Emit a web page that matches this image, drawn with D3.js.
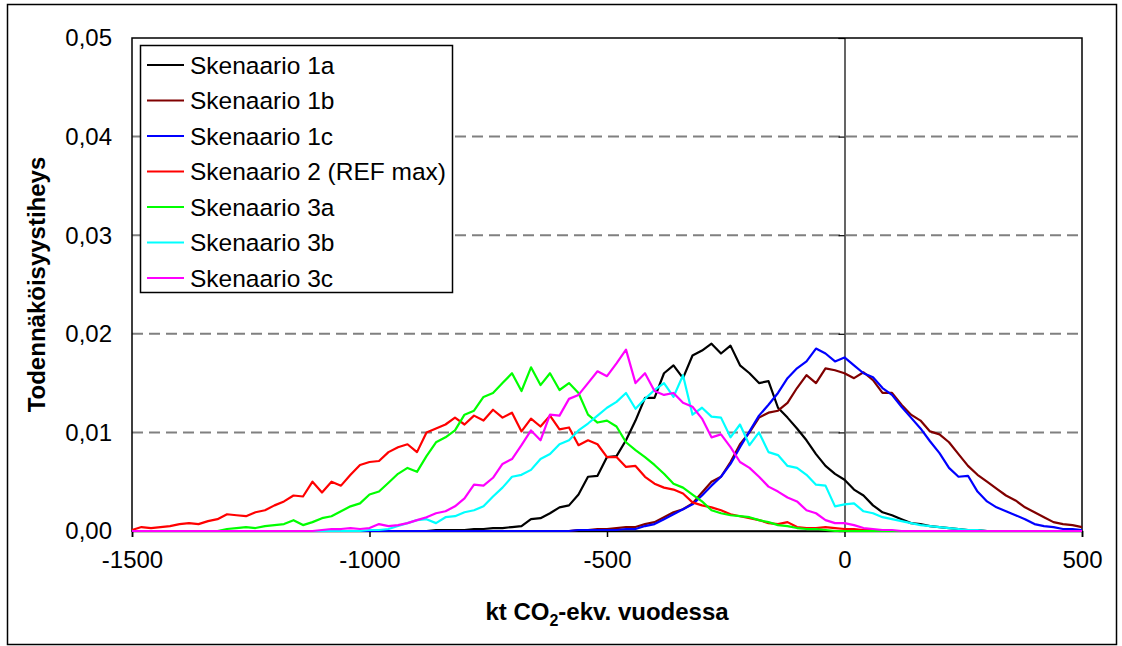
<!DOCTYPE html>
<html>
<head>
<meta charset="utf-8">
<script src="https://cdn.jsdelivr.net/npm/d3@7"></script>
<style>
  html, body { margin: 0; padding: 0; background: #fff; }
  svg { display: block; font-family: Arial, "Liberation Sans", sans-serif; }
</style>
</head>
<body>
<svg id="chart" width="1122" height="646"></svg>
<script>
// x categories (kt CO2-ekv. vuodessa)
const xGrid = [
  -1500,-1480,-1460,-1440,-1420,-1400,-1380,-1360,-1340,-1320,
  -1300,-1280,-1260,-1240,-1220,-1200,-1180,-1160,-1140,-1120,
  -1100,-1080,-1060,-1040,-1020,-1000,-980,-960,-940,-920,
  -900,-880,-860,-840,-820,-800,-780,-760,-740,-720,
  -700,-680,-660,-640,-620,-600,-580,-560,-540,-520,
  -500,-480,-460,-440,-420,-400,-380,-360,-340,-320,
  -300,-280,-260,-240,-220,-200,-180,-160,-140,-120,
  -100,-80,-60,-40,-20,0,20,40,60,80,
  100,120,140,160,180,200,220,240,260,280,
  300,320,340,360,380,400,420,440,460,480,
  500
];

const s1a = [
  0,0,0,0,0,0,0,0,0,0,
  0,0,0,0,0,0,0,0,0,0,
  0,0,0,0,0,0,0,0,0,0,
  0,0,.0001,.0001,.0001,.0001,.0002,.0002,.0003,.0003,
  .0004,.0005,.0012,.0013,.0018,.0024,.0026,.0037,.0055,.0056,
  .0075,.0076,.0092,.0112,.0135,.0135,.0160,.0168,.0155,.0178,
  .0183,.0190,.0180,.0188,.0168,.0160,.0150,.0152,.0125,.0115,
  .0104,.0092,.0078,.0066,.0058,.0052,.0042,.0036,.0026,.0019,
  .0016,.0012,.0008,.0007,.0005,.0004,.0003,.0002,.0001,.0001,
  0,0,0,0,0,0,0,0,0,0,
  0
];
const s1b = [
  0,0,0,0,0,0,0,0,0,0,
  0,0,0,0,0,0,0,0,0,0,
  0,0,0,0,0,0,0,0,0,0,
  0,0,0,0,0,0,0,0,0,0,
  0,0,0,0,0,0,0,.0001,.0001,.0002,
  .0002,.0003,.0004,.0004,.0007,.0009,.0014,.0019,.0022,.0028,
  .0039,.0050,.0055,.0070,.0088,.0100,.0115,.0120,.0122,.0130,
  .0145,.0158,.0150,.0165,.0163,.0160,.0155,.0161,.0153,.0140,
  .0140,.0128,.0118,.0112,.0101,.0098,.0090,.0078,.0066,.0057,
  .0050,.0043,.0036,.0031,.0024,.0019,.0014,.0009,.0007,.0006,
  .0004
];
const s1c = [
  0,0,0,0,0,0,0,0,0,0,
  0,0,0,0,0,0,0,0,0,0,
  0,0,0,0,0,0,0,0,0,0,
  0,0,0,0,0,0,0,0,0,0,
  0,0,0,0,0,0,0,.0001,.0001,.0001,
  .0001,.0001,.0002,.0002,.0005,.0007,.0012,.0017,.0022,.0027,
  .0036,.0046,.0055,.0068,.0085,.0101,.0117,.0128,.0140,.0155,
  .0165,.0172,.0185,.0180,.0172,.0176,.0168,.0160,.0156,.0145,
  .0138,.0126,.0115,.0104,.0091,.0079,.0064,.0055,.0056,.0040,
  .0030,.0024,.0020,.0016,.0012,.0007,.0005,.0004,.0002,.0002,
  .0001
];
const s2 = [
  .0001,.0004,.0003,.0004,.0005,.0007,.0008,.0007,.0010,.0012,
  .0017,.0016,.0015,.0019,.0021,.0026,.0030,.0036,.0035,.0050,
  .0039,.0050,.0046,.0057,.0067,.0070,.0071,.0080,.0085,.0088,
  .0080,.0100,.0104,.0108,.0115,.0108,.0117,.0112,.0123,.0115,
  .0120,.0101,.0114,.0106,.0117,.0103,.0105,.0087,.0092,.0088,
  .0075,.0075,.0065,.0066,.0055,.0048,.0044,.0042,.0038,.0029,
  .0026,.0024,.0021,.0017,.0015,.0013,.0011,.0008,.0007,.0009,
  .0004,.0003,.0003,.0004,.0003,.0002,.0002,.0001,.0001,0,
  0,0,0,0,0,0,0,0,0,0,
  0,0,0,0,0,0,0,0,0,0,
  0
];
const s3a = [
  0,0,0,0,0,0,0,0,0,0,
  .0002,.0003,.0004,.0003,.0005,.0006,.0007,.0011,.0006,.0009,
  .0013,.0015,.0020,.0025,.0028,.0037,.0040,.0049,.0058,.0064,
  .0060,.0076,.0090,.0095,.0102,.0118,.0122,.0136,.0140,.0150,
  .0160,.0142,.0166,.0148,.0160,.0143,.0150,.0140,.0118,.0110,
  .0112,.0106,.0090,.0082,.0075,.0067,.0058,.0048,.0044,.0037,
  .0030,.0021,.0018,.0016,.0015,.0014,.0011,.0009,.0006,.0005,
  .0003,.0002,.0002,.0001,0,0,0,0,0,0,
  0,0,0,0,0,0,0,0,0,0,
  0,0,0,0,0,0,0,0,0,0,
  0
];
const s3b = [
  0,0,0,0,0,0,0,0,0,0,
  0,0,0,0,0,0,0,0,0,0,
  0,0,0,0,0,.0001,.0001,.0002,.0005,.0008,
  .0011,.0012,.0008,.0014,.0015,.0019,.0021,.0025,.0035,.0044,
  .0055,.0057,.0062,.0073,.0078,.0088,.0092,.0102,.0109,.0117,
  .0125,.0131,.0140,.0124,.0134,.0143,.0150,.0136,.0158,.0118,
  .0125,.0116,.0115,.0095,.0108,.0087,.0100,.0080,.0077,.0066,
  .0064,.0057,.0047,.0046,.0025,.0027,.0028,.0020,.0018,.0014,
  .0012,.0010,.0008,.0006,.0005,.0004,.0003,.0002,.0001,.0001,
  0,0,0,0,0,0,0,0,0,0,
  0
];
const s3c = [
  0,0,0,0,0,0,0,0,0,0,
  0,0,0,0,0,0,0,0,0,0,
  .0001,.0002,.0002,.0003,.0002,.0003,.0007,.0005,.0006,.0008,
  .0011,.0014,.0018,.0020,.0025,.0033,.0047,.0046,.0054,.0068,
  .0073,.0087,.0102,.0092,.0118,.0117,.0134,.0138,.0150,.0162,
  .0157,.0170,.0184,.0150,.0160,.0142,.0138,.0140,.0130,.0126,
  .0114,.0095,.0098,.0085,.0070,.0064,.0055,.0045,.0040,.0034,
  .0030,.0021,.0018,.0011,.0008,.0008,.0006,.0003,.0002,.0001,
  .0001,0,0,0,0,0,0,0,0,0,
  0,0,0,0,0,0,0,0,0,0,
  0
];

const seriesNames = ["Skenaario 1a","Skenaario 1b","Skenaario 1c","Skenaario 2 (REF max)","Skenaario 3a","Skenaario 3b","Skenaario 3c"];
const seriesValues = [s1a, s1b, s1c, s2, s3a, s3b, s3c];
const seriesColors = ["#000000","#800000","#0000FF","#FF0000","#00FF00","#00FFFF","#FF00FF"];
const xTicks = [-1500, -1000, -500, 0, 500];
const xTickLabels = ["-1500", "-1000", "-500", "0", "500"];
const yTicks = [0, 0.01, 0.02, 0.03, 0.04, 0.05];
const yTickLabels = ["0,00", "0,01", "0,02", "0,03", "0,04", "0,05"];
const yGridTicks = [0.01, 0.02, 0.03, 0.04];

const svg = d3.select("#chart");
const L = 132, R = 1082, T = 38, B = 531;

// outer frame
svg.append("rect").attr("x", 7.5).attr("y", 4.5).attr("width", 1109).attr("height", 640)
  .attr("fill", "#fff").attr("stroke", "#000").attr("stroke-width", 1.5);

const x = d3.scaleLinear().domain([-1500, 500]).range([L, R]);
const y = d3.scaleLinear().domain([0, 0.05]).range([B, T]);

// gridlines
svg.append("g").selectAll("line").data(yGridTicks).join("line")
  .attr("x1", L).attr("x2", R).attr("y1", d => y(d)).attr("y2", d => y(d))
  .attr("stroke", "#808080").attr("stroke-width", 2).attr("stroke-dasharray", "11,6");

// plot border
svg.append("rect").attr("x", L).attr("y", T).attr("width", R - L).attr("height", B - T)
  .attr("fill", "none").attr("stroke", "#000").attr("stroke-width", 1.5);

// vertical axis at x = 0 with ticks
const yAxisG = svg.append("g").attr("transform", `translate(${x(0)},0)`)
  .call(d3.axisLeft(y).tickValues(yTicks).tickSize(6).tickFormat(""));
yAxisG.select(".domain").attr("stroke", "#000").attr("stroke-width", 1.2);
yAxisG.selectAll(".tick line").attr("stroke", "#000").attr("stroke-width", 1.2);

// x axis
const xAxisG = svg.append("g").attr("transform", `translate(0,${B})`)
  .call(d3.axisBottom(x).tickValues(xTicks).tickSize(6).tickPadding(14)
    .tickFormat((d, i) => xTickLabels[i]));
xAxisG.select(".domain").attr("stroke", "#000").attr("stroke-width", 1.5);
xAxisG.selectAll(".tick line").attr("stroke", "#000").attr("stroke-width", 1.5);
xAxisG.selectAll(".tick text").attr("font-size", 24).attr("fill", "#000")
  .attr("font-family", "Arial, 'Liberation Sans', sans-serif");

// y tick labels (low position, left of plot)
svg.append("g").selectAll("text").data(yTicks).join("text")
  .attr("x", 112).attr("y", d => y(d)).attr("dy", "0.35em")
  .attr("text-anchor", "end").attr("font-size", 24).attr("fill", "#000")
  .text((d, i) => yTickLabels[i]);

// series
const line = d3.line().x((d, i) => x(xGrid[i])).y(d => y(d));
svg.append("g").selectAll("path").data(seriesValues).join("path")
  .attr("d", d => line(d))
  .attr("fill", "none")
  .attr("stroke", (d, i) => seriesColors[i])
  .attr("stroke-width", 2.2)
  .attr("stroke-linejoin", "round");

// axis titles
const xt = svg.append("text").attr("x", (L + R) / 2).attr("y", 620)
  .attr("text-anchor", "middle").attr("font-size", 24).attr("font-weight", "bold").attr("fill", "#000");
xt.append("tspan").text("kt CO");
xt.append("tspan").attr("font-size", 16).attr("dy", 6).text("2");
xt.append("tspan").attr("dy", -6).text("-ekv. vuodessa");

svg.append("text").attr("transform", `translate(45,${(T + B) / 2}) rotate(-90)`)
  .attr("text-anchor", "middle").attr("font-size", 24).attr("font-weight", "bold").attr("fill", "#000")
  .text("Todennäköisyystiheys");

// legend
const lg = svg.append("g");
lg.append("rect").attr("x", 140.5).attr("y", 45.5).attr("width", 312).attr("height", 247)
  .attr("fill", "#fff").attr("stroke", "#000").attr("stroke-width", 1.5);
const rows = lg.selectAll("g.row").data(seriesNames).join("g").attr("class", "row")
  .attr("transform", (d, i) => `translate(0,${65 + i * 35.5})`);
rows.append("line").attr("x1", 147).attr("x2", 184).attr("y1", 0).attr("y2", 0)
  .attr("stroke", (d, i) => seriesColors[i]).attr("stroke-width", 2.2);
rows.append("text").attr("x", 190).attr("y", 0).attr("dy", "0.35em")
  .attr("font-size", 24.5).attr("fill", "#000").text(d => d);
</script>
</body>
</html>
